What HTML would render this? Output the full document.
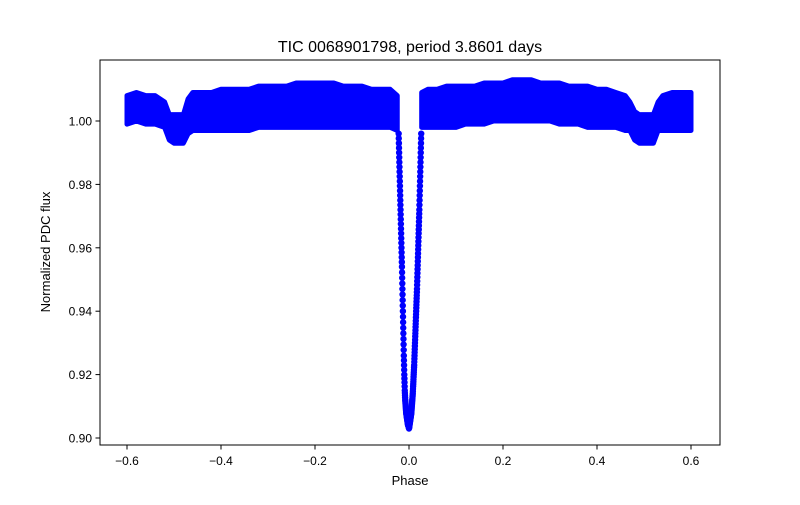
<!DOCTYPE html>
<html><head><meta charset="utf-8"><style>
body{margin:0;background:#fff}
svg{font-family:"Liberation Sans","DejaVu Sans",sans-serif}
</style></head><body>
<svg id="chart" width="800" height="500" viewBox="0 0 800 500" xmlns="http://www.w3.org/2000/svg">
<rect width="800" height="500" fill="#fff"/>
<text x="410" y="52" text-anchor="middle" font-size="16">TIC 0068901798, period 3.8601 days</text>
<g id="marks"></g>
<rect x="100" y="60" width="620" height="385" fill="none" stroke="#000" stroke-width="1"/>
<g id="xaxis"></g>
<g id="yaxis"></g>
<text x="410" y="485" text-anchor="middle" font-size="13">Phase</text>
<text x="50" y="252" text-anchor="middle" font-size="13" transform="rotate(-90 50 252)">Normalized PDC flux</text>
</svg>
<script>
const bandPhase=[-0.60,-0.58,-0.56,-0.54,-0.52,-0.51,-0.50,-0.49,-0.48,-0.47,-0.46,-0.44,-0.42,-0.40,-0.38,-0.36,-0.34,-0.32,-0.30,-0.28,-0.26,-0.24,-0.22,-0.20,-0.18,-0.16,-0.14,-0.12,-0.10,-0.08,-0.06,-0.04,-0.025];
const bandUpper=[1.008,1.009,1.008,1.008,1.006,1.002,1.002,1.002,1.002,1.007,1.009,1.009,1.009,1.010,1.010,1.010,1.010,1.011,1.011,1.011,1.011,1.012,1.012,1.012,1.012,1.012,1.011,1.011,1.011,1.010,1.010,1.010,1.008];
const bandLower=[0.999,1.000,0.999,0.999,0.998,0.994,0.993,0.993,0.993,0.996,0.997,0.997,0.997,0.997,0.997,0.997,0.997,0.998,0.998,0.998,0.998,0.998,0.998,0.998,0.998,0.998,0.998,0.998,0.998,0.998,0.998,0.998,0.997];
const bandPhase2=[0.027,0.04,0.06,0.08,0.10,0.12,0.14,0.16,0.18,0.20,0.22,0.24,0.26,0.28,0.30,0.32,0.34,0.36,0.38,0.40,0.42,0.44,0.46,0.47,0.48,0.49,0.50,0.51,0.52,0.53,0.54,0.56,0.58,0.60];
const bandUpper2=[1.009,1.010,1.010,1.011,1.011,1.011,1.011,1.012,1.012,1.012,1.013,1.013,1.013,1.012,1.012,1.012,1.011,1.011,1.011,1.010,1.010,1.009,1.008,1.006,1.003,1.002,1.002,1.002,1.002,1.006,1.008,1.009,1.009,1.009];
const bandLower2=[0.998,0.998,0.998,0.998,0.998,0.999,0.999,0.999,1.000,1.000,1.000,1.000,1.000,1.000,1.000,0.999,0.999,0.999,0.998,0.998,0.998,0.998,0.997,0.997,0.994,0.993,0.993,0.993,0.993,0.997,0.997,0.997,0.997,0.997];
const dipPhase=[-0.022,-0.021,-0.020,-0.019,-0.018,-0.017,-0.016,-0.015,-0.014,-0.013,-0.012,-0.011,-0.010,-0.009,-0.008,-0.007,-0.006,-0.005,-0.004,-0.003,-0.002,-0.001,0.000,0.001,0.002,0.003,0.004,0.005,0.006,0.007,0.008,0.009,0.010,0.011,0.012,0.013,0.014,0.015,0.016,0.017,0.018,0.019,0.020,0.021,0.022,0.023,0.024,0.025,0.026];
const dipFlux=[0.996,0.990,0.984,0.978,0.972,0.966,0.960,0.954,0.947,0.940,0.933,0.926,0.920,0.915,0.912,0.910,0.908,0.907,0.906,0.905,0.904,0.904,0.903,0.904,0.905,0.906,0.907,0.908,0.910,0.912,0.914,0.917,0.920,0.923,0.927,0.931,0.935,0.939,0.943,0.947,0.952,0.957,0.962,0.967,0.972,0.978,0.984,0.990,0.996];
const xTicks=[-0.6,-0.4,-0.2,0.0,0.2,0.4,0.6];
const xTickLabels=["\u22120.6","\u22120.4","\u22120.2","0.0","0.2","0.4","0.6"];
const yTicks=[0.90,0.92,0.94,0.96,0.98,1.00];
const yTickLabels=["0.90","0.92","0.94","0.96","0.98","1.00"];

const NS="http://www.w3.org/2000/svg";
const xs=v=>409+v*470;
const ys=v=>121+(1-v)*3170;
const marks=document.getElementById('marks');
function band(ph,up,lo,name){
  let d=ph.map((p,i)=>(i?'L':'M')+xs(p)+','+ys(up[i])).join('');
  for(let i=ph.length-1;i>=0;i--) d+='L'+xs(ph[i])+','+ys(lo[i]);
  const path=document.createElementNS(NS,'path');
  path.setAttribute('d',d+'Z');path.setAttribute('fill','#0000ff');
  path.setAttribute('stroke','#0000ff');path.setAttribute('stroke-width','5');path.setAttribute('stroke-linejoin','round');
  
  
  marks.appendChild(path);
}
band(bandPhase,bandUpper,bandLower,'out-of-transit-band-left');
band(bandPhase2,bandUpper2,bandLower2,'out-of-transit-band-right');
dipPhase.forEach((p,i)=>{
  const c=document.createElementNS(NS,'circle');
  c.setAttribute('cx',xs(p));c.setAttribute('cy',ys(dipFlux[i]));c.setAttribute('r','3.2');c.setAttribute('fill','#0000ff');
  
  
  marks.appendChild(c);
  for(let k=1;k<4;k++){
    if(i<dipPhase.length-1){
      const c2=document.createElementNS(NS,'circle');
      const pp=p+(dipPhase[i+1]-p)*k/4, ff=dipFlux[i]+(dipFlux[i+1]-dipFlux[i])*k/4;
      c2.setAttribute('cx',xs(pp));c2.setAttribute('cy',ys(ff));c2.setAttribute('r','3.2');c2.setAttribute('fill','#0000ff');
      
      
      marks.appendChild(c2);
    }
  }
});
const xa=document.getElementById('xaxis');
xTicks.forEach((t,i)=>{
  const l=document.createElementNS(NS,'line');
  l.setAttribute('x1',xs(t));l.setAttribute('x2',xs(t));l.setAttribute('y1',445);l.setAttribute('y2',449.5);l.setAttribute('stroke','#000');
  
  
  xa.appendChild(l);
  const tx=document.createElementNS(NS,'text');
  tx.setAttribute('x',xs(t));tx.setAttribute('y',465);tx.setAttribute('text-anchor','middle');tx.setAttribute('font-size','12');
  tx.textContent=xTickLabels[i];
  
  
  xa.appendChild(tx);
});
const ya=document.getElementById('yaxis');
yTicks.forEach((t,i)=>{
  const l=document.createElementNS(NS,'line');
  l.setAttribute('x1',95.5);l.setAttribute('x2',100);l.setAttribute('y1',ys(t));l.setAttribute('y2',ys(t));l.setAttribute('stroke','#000');
  
  
  ya.appendChild(l);
  const tx=document.createElementNS(NS,'text');
  tx.setAttribute('x',92);tx.setAttribute('y',ys(t)+4.5);tx.setAttribute('text-anchor','end');tx.setAttribute('font-size','12');
  tx.textContent=yTickLabels[i];
  
  
  ya.appendChild(tx);
});
</script>
</body></html>
